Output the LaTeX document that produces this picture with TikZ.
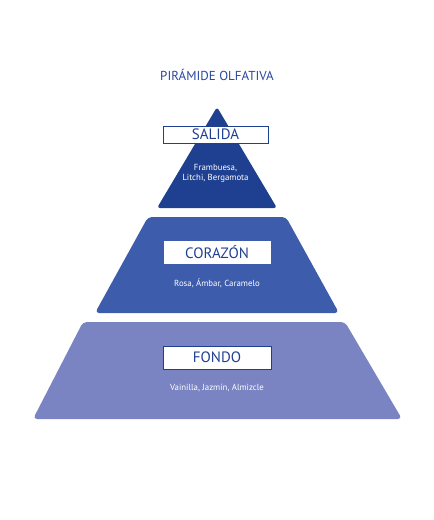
\documentclass[tikz,border=0pt]{standalone}
\usepackage{fontspec}
\setmainfont{PT Sans}
\usepackage{xcolor}
\usetikzlibrary{positioning}
\definecolor{pyrdark}{RGB}{31,64,145}
\definecolor{pyrmid}{RGB}{62,92,172}
\definecolor{pyrlight}{RGB}{122,132,194}
\definecolor{titleblue}{RGB}{40,72,156}

\begin{document}
\begin{tikzpicture}[x=1pt, y=-1pt,
    layerbox/.style={draw=pyrdark, fill=white, line width=1pt, inner sep=0pt,
      text=pyrdark, font=\fontsize{15}{15}\selectfont},
    layertext/.style={text=white, align=center, font=\fontsize{8.8}{10.5}\selectfont}]
    \useasboundingbox (0,0) rectangle (434,520);
    \node[text=titleblue, font=\fontsize{13}{14}\selectfont] (title) at (217,75) {PIRÁMIDE OLFATIVA};

    % layers of the pyramid
    \fill[pyrlight, rounded corners=4pt] (83,322) -- (345,322) -- (402,419) -- (33,419) -- cycle;
    \fill[pyrmid, rounded corners=4pt] (148,217) -- (286,217) -- (339,313) -- (95,313) -- cycle;
    \fill[pyrdark, rounded corners=3pt] (217,107) -- (277,208) -- (157,208) -- cycle;

    \node[layerbox, minimum width=105pt, minimum height=17pt] (salida) at (215.5,134.5) {SALIDA};
    \node[layertext, below=17pt of salida] (salidatxt) {Frambuesa,\\Litchi, Bergamota};
    \node[layerbox, draw=white, minimum width=106pt, minimum height=22pt] (corazon) at (217,252) {CORAZÓN};
    \node[layertext, below=12pt of corazon] (corazontxt) {Rosa, Ámbar, Caramelo};
    \node[layerbox, minimum width=108pt, minimum height=23pt] (fondo) at (217,357.5) {FONDO};
    \node[layertext, below=11pt of fondo] (fondotxt) {Vainilla, Jazmín, Almizcle};
\end{tikzpicture}
\end{document}
